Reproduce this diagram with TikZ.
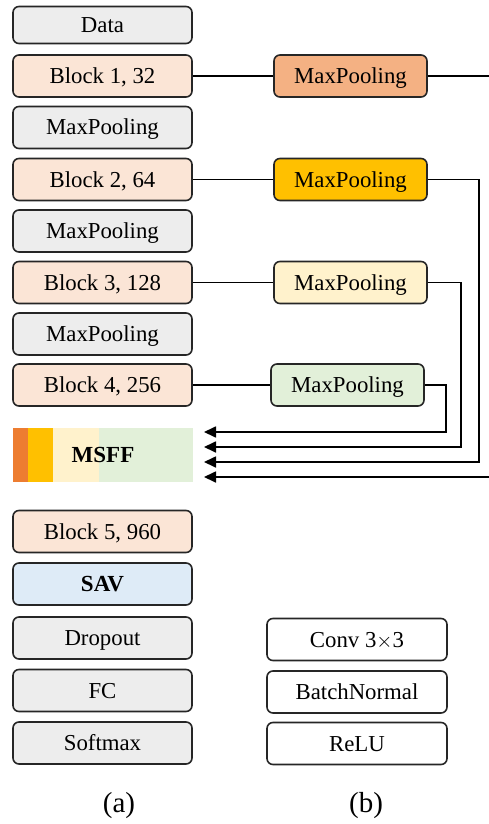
\documentclass[tikz,border=0pt]{standalone}
\usepackage{fontspec}
\setmainfont{Liberation Serif}
\usetikzlibrary{arrows.meta}
\definecolor{peach}{HTML}{FBE5D6}
\definecolor{grayf}{HTML}{EDEDED}
\definecolor{mp1}{HTML}{F4B183}
\definecolor{mp2}{HTML}{FFC000}
\definecolor{mp3}{HTML}{FFF2CC}
\definecolor{mp4}{HTML}{E2F0D9}
\definecolor{savc}{HTML}{DEEBF7}
\definecolor{orng}{HTML}{ED7D31}
\tikzset{
  box/.style={draw=black!85, line width=1.6pt, rounded corners=6pt, minimum width=179pt, minimum height=42pt, inner sep=0pt, text height=15pt, text depth=0pt, font=\fontsize{22.8}{26}\selectfont},
  pbox/.style={box, minimum width=153pt},
  rbox/.style={box, minimum width=180pt},
  conn/.style={line width=1.7pt, draw=black},
  arr/.style={conn, -{Triangle[length=12pt,width=11pt]}},
  lab/.style={font=\fontsize{29}{32}\selectfont}
}
\begin{document}
\begin{tikzpicture}[x=1pt,y=-1pt]
\useasboundingbox (0,0) rectangle (489,824);
% left column
\node[box, fill=grayf, minimum height=37pt] (data) at (102.5,25) {Data};
\node[box, fill=peach] (b1) at (102.5,76) {Block 1, 32};
\node[box, fill=grayf] (m1) at (102.5,127.5) {MaxPooling};
\node[box, fill=peach] (b2) at (102.5,179.5) {Block 2, 64};
\node[box, fill=grayf] (m2) at (102.5,231) {MaxPooling};
\node[box, fill=peach] (b3) at (102.5,282.5) {Block 3, 128};
\node[box, fill=grayf] (m3) at (102.5,334) {MaxPooling};
\node[box, fill=peach] (b4) at (102.5,385) {Block 4, 256};
% MSFF
\fill[orng] (13,428) rectangle (28,482);
\fill[mp2] (28,428) rectangle (53,482);
\fill[mp3] (53,428) rectangle (99,482);
\fill[mp4] (99,428) rectangle (193,482);
\node[minimum width=180pt, minimum height=54pt, inner sep=0pt, text height=15pt, text depth=0pt, font=\fontsize{23}{26}\selectfont\bfseries] (msff) at (103,455) {MSFF};
\node[box, fill=peach] (b5) at (102.5,531.5) {Block 5, 960};
\node[box, fill=savc, font=\fontsize{23}{26}\selectfont\bfseries] (sav) at (102.5,584) {SAV};
\node[box, fill=grayf] (drop) at (102.5,638) {Dropout};
\node[box, fill=grayf] (fc) at (102.5,690.5) {FC};
\node[box, fill=grayf] (soft) at (102.5,743) {Softmax};
% pooling branch
\node[pbox, fill=mp1] (p1) at (350.5,76) {MaxPooling};
\node[pbox, fill=mp2] (p2) at (350.5,179.5) {MaxPooling};
\node[pbox, fill=mp3] (p3) at (350.5,282.5) {MaxPooling};
\node[pbox, fill=mp4] (p4) at (347.5,385) {MaxPooling};
\coordinate (in1) at (204,432);
\coordinate (in2) at (204,447);
\coordinate (in3) at (204,462);
\coordinate (in4) at (204,477);
\draw[conn] (b1.east) -- (p1.west);
\draw[conn] (b2.east) -- (p2.west);
\draw[conn] (b3.east) -- (p3.west);
\draw[conn] (b4.east) -- (p4.west);
\draw[arr] (p4.east) -- ++(21,0) |- (in1);
\draw[arr] (p3.east) -- ++(33,0) |- (in2);
\draw[arr] (p2.east) -- ++(51,0) |- (in3);
\draw[arr] (p1.east) -- ++(62,0) |- (in4);
% (b) blocks
\node[rbox] (conv) at (357,639.5) {Conv 3$\times$3};
\node[rbox] (bn) at (357,692) {BatchNormal};
\node[rbox] (relu) at (357,743.5) {ReLU};
% labels
\node[lab] (la) at (119,806) {(a)};
\node[lab] (lb) at (366,806) {(b)};
\end{tikzpicture}
\end{document}
